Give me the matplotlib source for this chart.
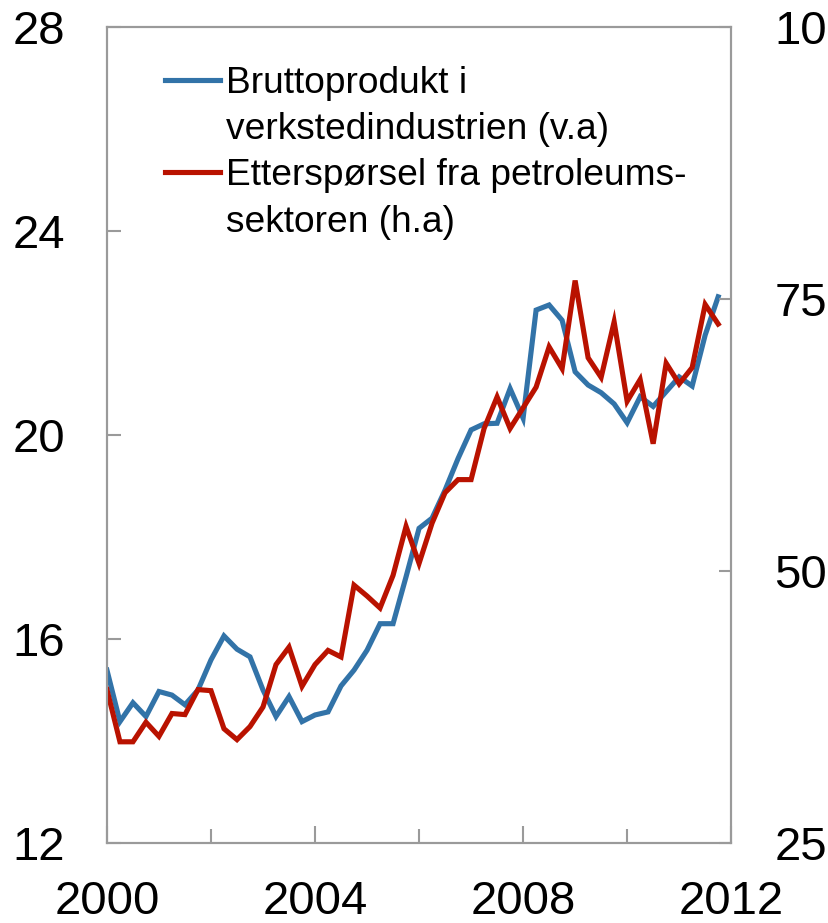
import matplotlib
matplotlib.use("Agg")
import matplotlib.pyplot as plt
from matplotlib.lines import Line2D
import numpy as np

plt.rcParams['font.family'] = ['Liberation Sans', 'DejaVu Sans']

# quarterly, 2000Q1 - 2011Q4
quarters = np.arange(48)
years = 2000 + quarters / 4

# Bruttoprodukt i verkstedindustrien (left axis)
brutto = [15.39, 14.38, 14.75, 14.48, 14.97, 14.90, 14.71, 15.00,
          15.59, 16.06, 15.80, 15.65, 15.00, 14.48, 14.87, 14.38,
          14.51, 14.57, 15.08, 15.39, 15.78, 16.30, 16.30, 17.22,
          18.17, 18.37, 18.92, 19.54, 20.10, 20.22, 20.23, 20.91,
          20.33, 22.45, 22.55, 22.25, 21.24, 20.98, 20.83, 20.61,
          20.24, 20.75, 20.56, 20.85, 21.14, 20.96, 21.96, 22.71]

# Etterspørsel fra petroleumssektoren (right axis)
petro = [39.1, 34.3, 34.3, 36.1, 34.8, 36.9, 36.8, 39.1,
         39.0, 35.5, 34.5, 35.7, 37.5, 41.4, 43.0, 39.4,
         41.4, 42.7, 42.1, 48.7, 47.7, 46.6, 49.6, 54.1,
         50.7, 54.4, 57.2, 58.4, 58.4, 63.1, 66.0, 63.1,
         65.0, 66.9, 70.6, 68.6, 76.7, 69.6, 67.8, 72.9,
         65.6, 67.6, 61.7, 69.1, 67.2, 68.7, 74.5, 72.7]

left_ticks = [12, 16, 20, 24, 28]
right_ticks = [25, 50, 75, 100]
year_ticks = [2000, 2004, 2008, 2012]
minor_year_ticks = [2002, 2006, 2010]

blue = '#3273a8'
red = '#b91200'
gray = '#9a9a9a'

fig = plt.figure(figsize=(8.29, 9.23), dpi=100)
ax = fig.add_axes([0.129, 0.0867, 0.753, 0.884])
ax2 = ax.twinx()

ax.plot(years, brutto, color=blue, lw=3.7, solid_joinstyle='miter')
ax2.plot(years, petro, color=red, lw=3.7, solid_joinstyle='miter')

ax.set_xlim(2000, 2012)
ax.set_ylim(12, 28)
ax2.set_ylim(25, 100)
ax.set_yticks(left_ticks)
ax2.set_yticks(right_ticks)
ax.set_xticks(year_ticks)
ax.set_xticks(minor_year_ticks, minor=True)

for a in (ax, ax2):
    for s in a.spines.values():
        s.set_color(gray)
        s.set_linewidth(1.5)

ax.tick_params(axis='y', direction='in', length=10, width=1.5, color=gray,
               labelsize=34, pad=30)
ax2.tick_params(axis='y', direction='in', length=9, width=1.5, color=gray,
                labelsize=34, pad=31)
ax.tick_params(axis='x', which='major', direction='in', length=12, width=1.5,
               color=gray, labelsize=34, pad=27)
ax.tick_params(axis='x', which='minor', direction='in', length=10, width=1.5,
               color=gray)

handles = [Line2D([], [], color=blue, lw=3.7),
           Line2D([], [], color='none'),
           Line2D([], [], color=red, lw=3.7),
           Line2D([], [], color='none')]
labels = ['Bruttoprodukt i', 'verkstedindustrien (v.a)',
          'Etterspørsel fra petroleums-', 'sektoren (h.a)']
leg = ax2.legend(handles, labels, loc='upper left', bbox_to_anchor=(0.093, 0.952),
                 frameon=False, fontsize=26.7, handlelength=1.49,
                 handletextpad=0.16, labelspacing=0.30, borderpad=0,
                 borderaxespad=0)

fig.savefig('out.png', dpi=100)
